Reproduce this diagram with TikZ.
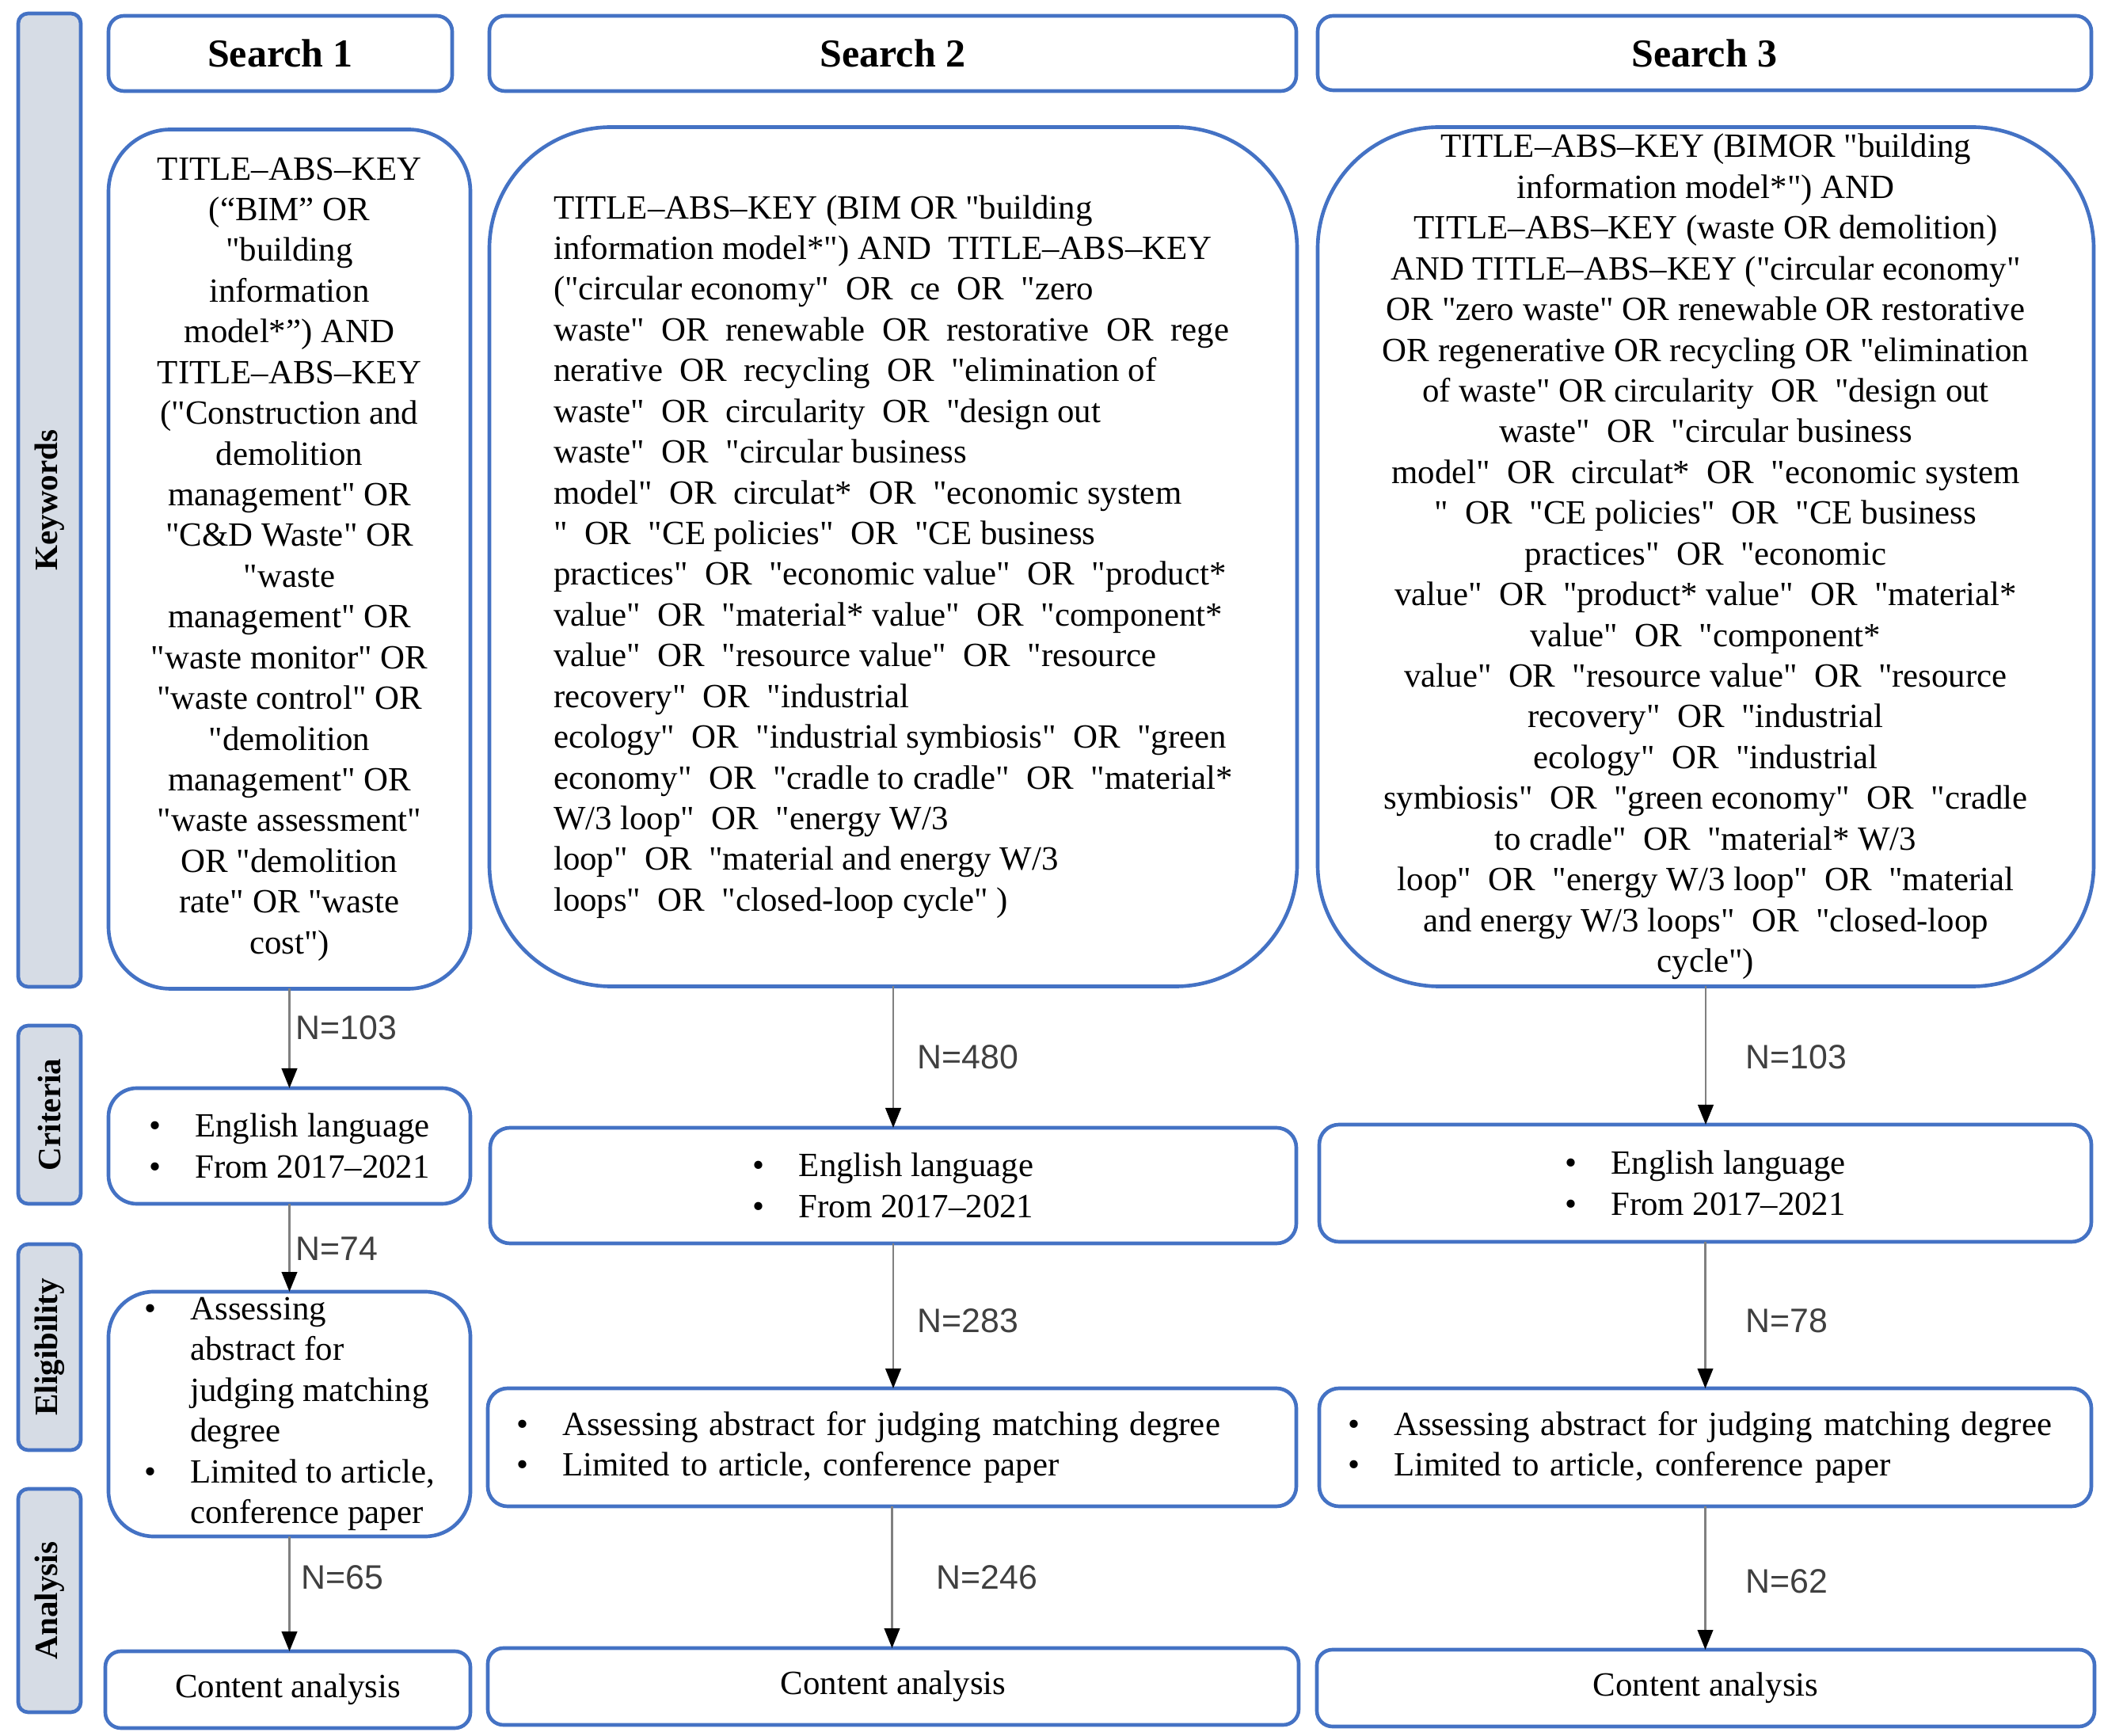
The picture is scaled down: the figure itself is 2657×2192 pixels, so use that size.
\documentclass[tikz,border=0pt]{standalone}
\usepackage{fontspec}
\setmainfont{Liberation Serif}[Ligatures=TeXOff]
\newfontfamily\nfont{Liberation Sans}
\usetikzlibrary{arrows.meta}
\definecolor{bblue}{HTML}{4472C4}
\definecolor{bfill}{HTML}{D6DCE5}
\definecolor{ngray}{HTML}{404040}
\definecolor{agray}{HTML}{808080}
\newcommand{\dOR}{\hspace{0.5em}OR\hspace{0.5em}}
\newcommand{\bul}{\makebox[16.3pt][l]{\textbullet}}
\newcommand{\ind}{\hspace*{16.3pt}}
\begin{document}
\begin{tikzpicture}[x=0.28pt,y=-0.28pt,
  font=\fontsize{12}{14.4}\selectfont,
  box/.style={draw=bblue, line width=1.3pt, inner sep=0pt, outer sep=0pt},
  wh/.style 2 args={minimum width=#1*0.28pt, minimum height=#2*0.28pt},
  bar/.style={box, fill=bfill, rounded corners=3.5pt},
  barlabel/.style={rotate=90, inner sep=0pt, font=\fontsize{11.5}{13}\selectfont\bfseries},
  hdr/.style={box, rounded corners=5.5pt, font=\fontsize{14}{16}\selectfont\bfseries},
  kw/.style={box, align=center},
  crit/.style={box, align=left},
  cont/.style={box, rounded corners=5.5pt},
  arr/.style={draw=agray, line width=0.6pt, -{Triangle[length=7pt,width=5.5pt,color=black]}},
  nlab/.style={anchor=west, inner sep=0pt, text=ngray, font=\nfont\fontsize{12}{14}\selectfont}
]
\useasboundingbox (0,0) rectangle (2657,2192);

% left stage bars
\node[bar, wh={79}{1229}] (kwbar) at (62.5,631.5) {};
\node[barlabel] (kwlab) at (kwbar) {Keywords};
\node[bar, wh={79}{225}] (crbar) at (62.5,1407.5) {};
\node[barlabel] (crlab) at (crbar) {Criteria};
\node[bar, wh={79}{260}] (elbar) at (62.5,1701) {};
\node[barlabel] (ellab) at (elbar) {Eligibility};
\node[bar, wh={79}{282}] (anbar) at (62.5,2021) {};
\node[barlabel] (anlab) at (anbar) {Analysis};

% headers
\node[hdr, wh={434}{95}] (h1) at (354,67.5) {Search 1};
\node[hdr, wh={1019}{95}] (h2) at (1127.5,67.5) {Search 2};
\node[hdr, wh={977}{94}] (h3) at (2152.5,67) {Search 3};

% keywords
\node[kw, rounded corners=22pt, wh={457}{1085}] (k1) at (365.5,706) {%
TITLE–ABS–KEY\\
(“BIM” OR\\
"building\\
information\\
model*”) AND\\
TITLE–ABS–KEY\\
("Construction and\\
demolition\\
management" OR\\
"C\&D Waste" OR\\
"waste\\
management" OR\\
"waste monitor" OR\\
"waste control" OR\\
"demolition\\
management" OR\\
"waste assessment"\\
OR "demolition\\
rate" OR "waste\\
cost")};

\node[box, align=left, rounded corners=43pt, wh={1020}{1085}] (k2) at (1128,703) {%
TITLE–ABS–KEY (BIM OR "building\\
information model*") AND\hspace{0.5em}TITLE–ABS–KEY\\
("circular economy"\dOR ce\dOR "zero\\
waste"\dOR renewable\dOR restorative\dOR rege\\
nerative\dOR recycling\dOR "elimination of\\
waste"\dOR circularity\dOR "design out\\
waste"\dOR "circular business\\
model"\dOR circulat*\dOR "economic system\\
"\dOR "CE policies"\dOR "CE business\\
practices"\dOR "economic value"\dOR "product*\\
value"\dOR "material* value"\dOR "component*\\
value"\dOR "resource value"\dOR "resource\\
recovery"\dOR "industrial\\
ecology"\dOR "industrial symbiosis"\dOR "green\\
economy"\dOR "cradle to cradle"\dOR "material*\\
W/3 loop"\dOR "energy W/3\\
loop"\dOR "material and energy W/3\\
loops"\dOR "closed-loop cycle" )};

\node[kw, rounded corners=43pt, wh={980}{1085}] (k3) at (2154,703) {%
TITLE–ABS–KEY (BIMOR "building\\
information model*") AND\\
TITLE–ABS–KEY (waste OR demolition)\\
AND TITLE–ABS–KEY ("circular economy"\\
OR "zero waste" OR renewable OR restorative\\
OR regenerative OR recycling OR "elimination\\
of waste" OR circularity\dOR "design out\\
waste"\dOR "circular business\\
model"\dOR circulat*\dOR "economic system\\
"\dOR "CE policies"\dOR "CE business\\
practices"\dOR "economic\\
value"\dOR "product* value"\dOR "material*\\
value"\dOR "component*\\
value"\dOR "resource value"\dOR "resource\\
recovery"\dOR "industrial\\
ecology"\dOR "industrial\\
symbiosis"\dOR "green economy"\dOR "cradle\\
to cradle"\dOR "material* W/3\\
loop"\dOR "energy W/3 loop"\dOR "material\\
and energy W/3 loops"\dOR "closed-loop\\
cycle")};

% criteria
\node[crit, rounded corners=10pt, wh={457}{146}] (c1) at (365.5,1447) {\bul English language\\\bul From 2017–2021};
\node[crit, rounded corners=7pt, wh={1018}{146}] (c2) at (1128,1497) {\bul English language\\\bul From 2017–2021};
\node[crit, rounded corners=7pt, wh={975}{148}] (c3) at (2153.5,1494) {\bul English language\\\bul From 2017–2021};

% eligibility
\node[crit, rounded corners=16pt, wh={457}{309}] (e1) at (365.5,1785.5) {%
\bul Assessing\\\ind abstract for\\\ind judging matching\\\ind degree\\\bul Limited to article,\\\ind conference paper};
\node[crit, rounded corners=7pt, wh={1021}{149}, text width=265.7pt] (e2) at (1126.5,1827.5) {%
\bul Assessing abstract for judging matching degree\\\bul Limited to article, conference paper};
\node[crit, rounded corners=7pt, wh={975}{149}, text width=252.8pt] (e3) at (2153.5,1827.5) {%
\bul Assessing abstract for judging matching degree\\\bul Limited to article, conference paper};

% content analysis
\node[cont, wh={461}{97}] (a1) at (363.5,2133.5) {Content analysis};
\node[cont, wh={1024}{97}] (a2) at (1128,2129.5) {Content analysis};
\node[cont, wh={982}{97}] (a3) at (2154,2131.5) {Content analysis};

% connectors
\draw[arr] (k1.south) -- (k1.south |- c1.north);
\draw[arr] (c1.south) -- (c1.south |- e1.north);
\draw[arr] (e1.south) -- (e1.south |- a1.north);
\draw[arr] (k2.south) -- (k2.south |- c2.north);
\draw[arr] (c2.south) -- (c2.south |- e2.north);
\draw[arr] (e2.south) -- (e2.south |- a2.north);
\draw[arr] (k3.south) -- (k3.south |- c3.north);
\draw[arr] (c3.south) -- (c3.south |- e3.north);
\draw[arr] (e3.south) -- (e3.south |- a3.north);

% counts
\node[nlab] (n11) at (373,1298) {N=103};
\node[nlab] (n12) at (373,1577) {N=74};
\node[nlab] (n13) at (380,1992) {N=65};
\node[nlab] (n21) at (1158,1335) {N=480};
\node[nlab] (n22) at (1158,1668) {N=283};
\node[nlab] (n23) at (1182,1992) {N=246};
\node[nlab] (n31) at (2204,1335) {N=103};
\node[nlab] (n32) at (2204,1668) {N=78};
\node[nlab] (n33) at (2204,1997) {N=62};
\end{tikzpicture}
\end{document}
